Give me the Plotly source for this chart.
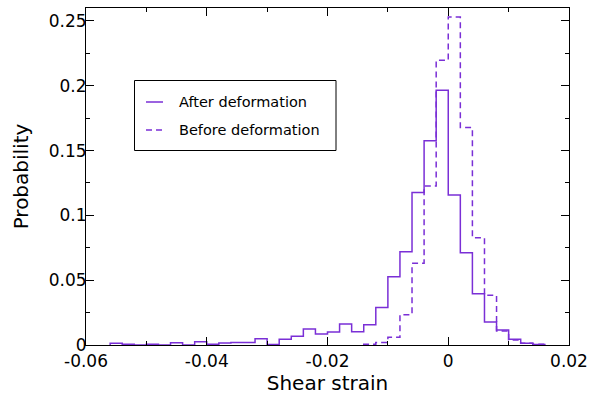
import plotly.graph_objects as go

# ---- data (bin edges are strain values, heights are probabilities) ----
after_edges = [-0.056, -0.054, -0.052, -0.050, -0.048, -0.046, -0.044, -0.042,
               -0.040, -0.038, -0.036, -0.034, -0.032, -0.030, -0.028, -0.026,
               -0.024, -0.022, -0.020, -0.018, -0.016, -0.014, -0.012, -0.010,
               -0.008, -0.006, -0.004, -0.002, 0.000, 0.002, 0.004, 0.006,
               0.008, 0.010, 0.012, 0.014, 0.016]
after_prob = [0.0013, 0.0005, 0.0, 0.0005, 0.0, 0.0018, 0.0, 0.0026,
              0.0005, 0.0015, 0.0020, 0.0020, 0.0049, 0.0003, 0.0044, 0.0067,
              0.0123, 0.0085, 0.0100, 0.0162, 0.0103, 0.0157, 0.0290, 0.0527,
              0.0720, 0.1177, 0.1575, 0.1966, 0.1157, 0.0712, 0.0395, 0.0178,
              0.0116, 0.0045, 0.0013, 0.0004]

before_edges = [-0.014, -0.012, -0.010, -0.008, -0.006, -0.004, -0.002, 0.000,
                0.002, 0.004, 0.006, 0.008, 0.010, 0.012, 0.014, 0.016]
before_prob = [0.0005, 0.0020, 0.0059, 0.0234, 0.0630, 0.1226, 0.2197, 0.2531,
               0.1678, 0.0828, 0.0383, 0.0108, 0.0039, 0.0013, 0.0005]

x_ticks = [-0.06, -0.04, -0.02, 0, 0.02]
x_ticktext = ["-0.06", "-0.04", "-0.02", "0", "0.02"]
y_ticks = [0, 0.05, 0.1, 0.15, 0.2, 0.25]
y_ticktext = ["0", "0.05", "0.1", "0.15", "0.2", "0.25"]

COLOR = "#7a2fd6"
FONT = "DejaVu Sans"


def step_xy(edges, vals):
    xs = [edges[0]] + list(edges)
    ys = [0] + list(vals) + [0]
    return xs, ys


fig = go.Figure()
xa, ya = step_xy(after_edges, after_prob)
fig.add_trace(go.Scatter(x=xa, y=ya, mode="lines", line_shape="hv",
                         line=dict(color=COLOR, width=1.5),
                         name="After deformation", showlegend=False))
xb, yb = step_xy(before_edges, before_prob)
fig.add_trace(go.Scatter(x=xb, y=yb, mode="lines", line_shape="hv",
                         line=dict(color=COLOR, width=1.5, dash="6px,4px"),
                         name="Before deformation", showlegend=False))

axis_common = dict(
    showgrid=False, zeroline=False, showline=True, linecolor="black",
    linewidth=1, mirror="allticks", ticks="inside", tickcolor="black",
    tickwidth=1, ticklen=8, automargin=False,
    tickfont=dict(family=FONT, size=17, color="black"),
)

fig.update_xaxes(
    **axis_common, range=[-0.06, 0.02], tickvals=x_ticks, ticktext=x_ticktext,
    ticklabelstandoff=1,
    minor=dict(dtick=0.01, ticks="inside", ticklen=4, tickcolor="black", tickwidth=1),
    title=dict(text="Shear strain", font=dict(family=FONT, size=20, color="black"),
               standoff=2),
)
fig.update_yaxes(
    **axis_common, range=[0, 0.26], tickvals=y_ticks, ticktext=y_ticktext,
    ticklabelstandoff=-5,
    minor=dict(dtick=0.025, ticks="inside", ticklen=4, tickcolor="black", tickwidth=1),
    title=dict(text="Probability", font=dict(family=FONT, size=20, color="black"),
               standoff=14),
)

# ---- manual legend (paper coordinates from plot-area pixels) ----
L, R, T, B = 86, 569, 8, 345


def px(x):
    return (x - L) / (R - L)


def py(y):
    return (B - y) / (B - T)


shapes = [
    dict(type="rect", xref="paper", yref="paper", x0=px(134.5), x1=px(336),
         y0=py(150.5), y1=py(80.5), line=dict(color="black", width=1),
         fillcolor="white", layer="above"),
    dict(type="line", xref="paper", yref="paper", x0=px(146), x1=px(163),
         y0=py(102), y1=py(102), line=dict(color=COLOR, width=1.5), layer="above"),
    dict(type="line", xref="paper", yref="paper", x0=px(146), x1=px(163),
         y0=py(130), y1=py(130), line=dict(color=COLOR, width=1.5, dash="6px,4px"),
         layer="above"),
]
annotations = [
    dict(xref="paper", yref="paper", x=px(177), y=py(102), xanchor="left",
         yanchor="middle", text="After deformation", showarrow=False,
         font=dict(family=FONT, size=14.5, color="black")),
    dict(xref="paper", yref="paper", x=px(177), y=py(130), xanchor="left",
         yanchor="middle", text="Before deformation", showarrow=False,
         font=dict(family=FONT, size=14.5, color="black")),
]

fig.update_layout(
    template="none",
    width=592, height=397,
    margin=dict(l=L, r=592 - R, t=T, b=397 - B, pad=0),
    plot_bgcolor="white", paper_bgcolor="white",
    shapes=shapes, annotations=annotations,
    font=dict(family=FONT, color="black"),
    showlegend=False,
)

fig.write_html("out.html")
